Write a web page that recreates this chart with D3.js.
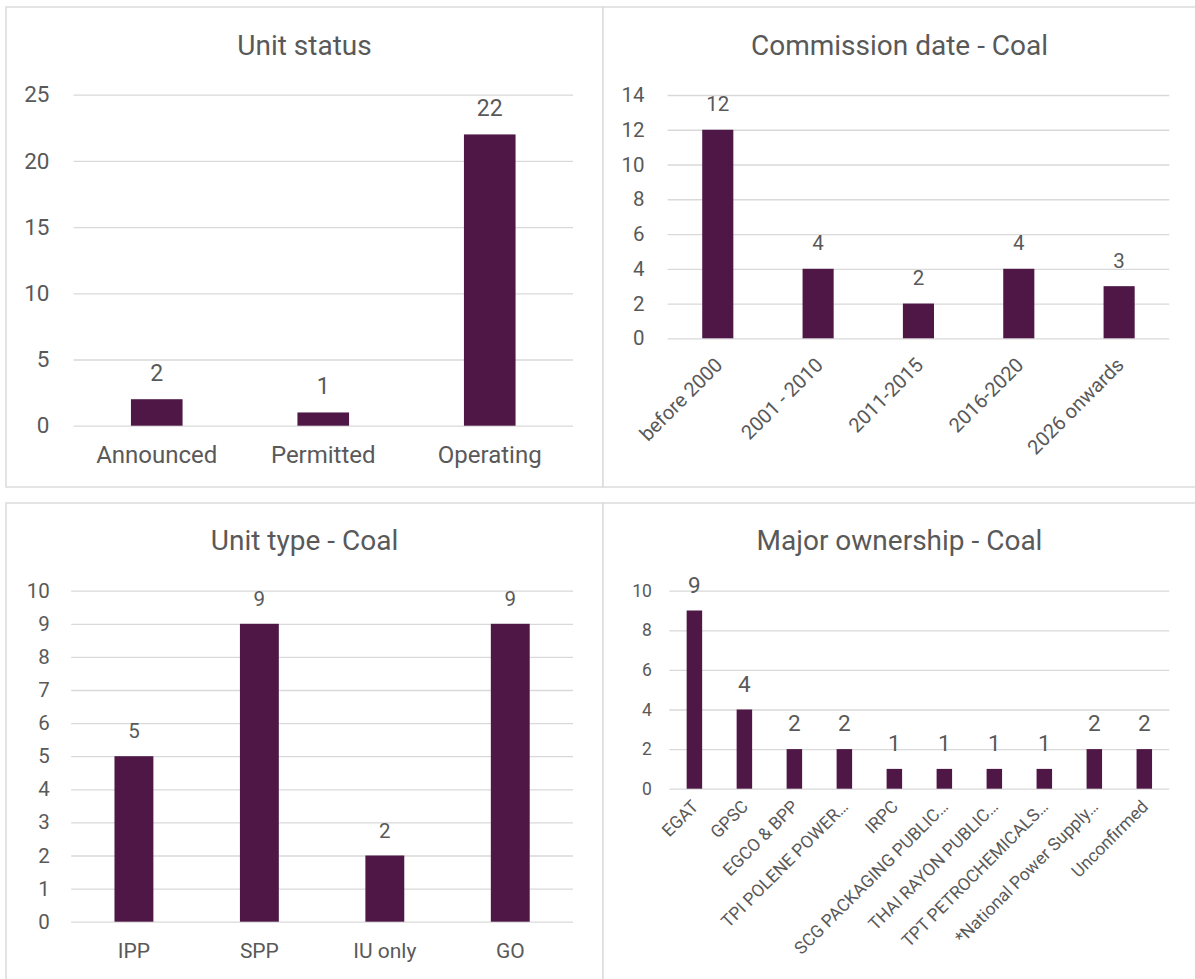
<!DOCTYPE html>
<html>
<head>
<meta charset="utf-8">
<script src="https://cdn.jsdelivr.net/npm/d3@7"></script>
<style>
  html, body { margin: 0; padding: 0; background: #ffffff; }
  svg { display: block; }
  text { font-family: Roboto, "Noto Sans", Arial, sans-serif; fill: #595959; }
</style>
</head>
<body>
<svg id="chart" width="1195" height="979"></svg>
<script>
// ---- Unit status ----
const statusCategories = ["Announced", "Permitted", "Operating"];
const statusCounts = [2, 1, 22];
const statusTicks = [0, 5, 10, 15, 20, 25];

// ---- Commission date - Coal ----
const commissionCategories = ["before 2000", "2001 - 2010", "2011-2015", "2016-2020", "2026 onwards"];
const commissionCounts = [12, 4, 2, 4, 3];
const commissionTicks = [0, 2, 4, 6, 8, 10, 12, 14];

// ---- Unit type - Coal ----
const typeCategories = ["IPP", "SPP", "IU only", "GO"];
const typeCounts = [5, 9, 2, 9];
const typeTicks = [0, 1, 2, 3, 4, 5, 6, 7, 8, 9, 10];

// ---- Major ownership - Coal ----
const ownerCategories = ["EGAT", "GPSC", "EGCO & BPP", "TPI POLENE POWER…", "IRPC",
  "SCG PACKAGING PUBLIC…", "THAI RAYON PUBLIC…", "TPT PETROCHEMICALS…",
  "*National Power Supply…", "Unconfirmed"];
const ownerCounts = [9, 4, 2, 2, 1, 1, 1, 1, 2, 2];
const ownerTicks = [0, 2, 4, 6, 8, 10];

const BAR = "#4f1746";
const GRID = "#d9d9d9";
const BORDER = "#dcdcdc";

const svg = d3.select("#chart");

const panels = [
  {
    title: "Unit status", cats: statusCategories, vals: statusCounts, ticks: statusTicks,
    box: [6, 7, 603, 487], titleY: 55,
    plot: { x0: 73.5, x1: 573, yTop: 94.7, yBottom: 425.7 },
    tickSize: 22.5, tickPad: 24, valueSize: 23, valueGap: 18,
    label: { rotate: false, size: 24, y: 463 }
  },
  {
    title: "Commission date - Coal", cats: commissionCategories, vals: commissionCounts, ticks: commissionTicks,
    box: [603, 7, 1196, 487], titleY: 55,
    plot: { x0: 667.6, x1: 1169.3, yTop: 95, yBottom: 338.3 },
    tickSize: 20.5, tickPad: 23, valueSize: 20.5, valueGap: 18.5,
    label: { rotate: true, size: 20, dx: 6, dy: 28 }
  },
  {
    title: "Unit type - Coal", cats: typeCategories, vals: typeCounts, ticks: typeTicks,
    box: [6, 503, 603, 985], titleY: 550,
    plot: { x0: 71.2, x1: 573, yTop: 590.7, yBottom: 921.7 },
    tickSize: 20.5, tickPad: 21.5, valueSize: 20.5, valueGap: 18,
    label: { rotate: false, size: 21, y: 958 }
  },
  {
    title: "Major ownership - Coal", cats: ownerCategories, vals: ownerCounts, ticks: ownerTicks,
    box: [603, 503, 1196, 985], titleY: 550,
    plot: { x0: 669.4, x1: 1169.3, yTop: 590.7, yBottom: 788.7 },
    tickSize: 17.5, tickPad: 17.5, valueSize: 22.5, valueGap: 18,
    label: { rotate: true, size: 17.5, dx: 5, dy: 19 }
  }
];

panels.forEach(p => {
  const g = svg.append("g");
  const [bx0, by0, bx1, by1] = p.box;

  // panel frame
  g.append("rect")
    .attr("x", bx0).attr("y", by0)
    .attr("width", bx1 - bx0).attr("height", by1 - by0)
    .attr("fill", "#ffffff")
    .attr("stroke", BORDER).attr("stroke-width", 1.5);

  // title, centred on the panel
  g.append("text")
    .attr("x", (bx0 + bx1) / 2)
    .attr("y", p.titleY)
    .attr("text-anchor", "middle")
    .style("font-size", "28px")
    .text(p.title);

  const x = d3.scaleBand()
    .domain(p.cats)
    .range([p.plot.x0, p.plot.x1])
    .paddingInner(0.69)
    .paddingOuter(0.345);

  const y = d3.scaleLinear()
    .domain([0, d3.max(p.ticks)])
    .range([p.plot.yBottom, p.plot.yTop]);

  // value axis with gridlines
  const axis = d3.axisLeft(y)
    .tickValues(p.ticks)
    .tickFormat(d3.format("d"))
    .tickSize(-(p.plot.x1 - p.plot.x0))
    .tickPadding(p.tickPad);

  const ag = g.append("g")
    .attr("transform", `translate(${p.plot.x0},0)`)
    .call(axis);
  ag.select(".domain").remove();
  ag.selectAll(".tick line")
    .attr("stroke", GRID).attr("stroke-width", 1.3);
  ag.selectAll(".tick text")
    .attr("fill", "#595959")
    .style("font-family", "Roboto, 'Noto Sans', Arial, sans-serif")
    .style("font-size", p.tickSize + "px");

  const data = p.cats.map((c, i) => ({ cat: c, val: p.vals[i] }));

  // bars
  g.selectAll("rect.bar")
    .data(data)
    .join("rect")
    .attr("class", "bar")
    .attr("x", d => x(d.cat))
    .attr("width", x.bandwidth())
    .attr("y", d => y(d.val))
    .attr("height", d => y(0) - y(d.val))
    .attr("fill", BAR);

  // value labels
  g.selectAll("text.value")
    .data(data)
    .join("text")
    .attr("class", "value")
    .attr("x", d => x(d.cat) + x.bandwidth() / 2)
    .attr("y", d => y(d.val) - p.valueGap)
    .attr("text-anchor", "middle")
    .style("font-size", p.valueSize + "px")
    .text(d => d.val);

  // category labels
  const labels = g.selectAll("text.cat")
    .data(data)
    .join("text")
    .attr("class", "cat")
    .style("font-size", p.label.size + "px")
    .text(d => d.cat);

  if (p.label.rotate) {
    labels
      .attr("text-anchor", "end")
      .attr("transform", d => {
        const cx = x(d.cat) + x.bandwidth() / 2 + p.label.dx;
        const cy = y(0) + p.label.dy;
        return `translate(${cx},${cy}) rotate(-45)`;
      });
  } else {
    labels
      .attr("text-anchor", "middle")
      .attr("x", d => x(d.cat) + x.bandwidth() / 2)
      .attr("y", p.label.y);
  }
});
</script>
</body>
</html>
